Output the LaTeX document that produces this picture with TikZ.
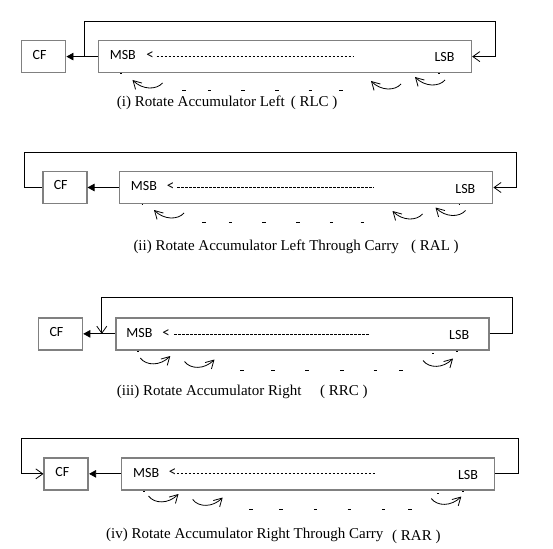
\documentclass[tikz,border=0pt]{standalone}
\usepackage{fontspec}
\setmainfont{Liberation Serif}
\newfontfamily\carlito{Carlito}
\usetikzlibrary{arrows.meta}
\definecolor{boxgray}{RGB}{128,128,128}
\newcommand\myLarr[2]{\draw[rotarr] (#1+30,#2+3) .. controls (#1+24,#2+10) and (#1+10,#2+10) .. (#1,#2);}
\newcommand\myRarr[2]{\draw[rotarr] (#1,#2+2) .. controls (#1+6,#2+10) and (#1+20,#2+10) .. (#1+30,#2);}
\newcommand\myTick[2]{\draw[tickmark] (#1-1.75,#2) -- (#1+1.75,#2);}
\newcommand\myMark[2]{\draw[tickmark] (#1-0.8,#2) -- (#1+0.8,#2);}
\begin{document}
\begin{tikzpicture}[x=1pt,y=-1pt,
  reg/.style={draw=boxgray, line width=1.6pt, minimum width=373pt, minimum height=32pt, inner sep=0pt},
  cfbox/.style={draw=boxgray, line width=1.6pt, minimum width=44pt, minimum height=32pt, inner sep=0pt,
     label={[font=\carlito\fontsize{14}{16}\selectfont, inner sep=0pt, xshift=-4pt, yshift=2pt]center:CF}},
  bit/.style={font=\carlito\fontsize{14}{16}\selectfont, inner sep=0pt},
  ltsign/.style={font=\carlito\fontsize{15}{17}\selectfont, inner sep=0pt},
  captext/.style={font=\fontsize{15}{18}\selectfont, inner sep=0pt, anchor=base west},
  conn/.style={line width=0.8pt},
  fillarr/.style={-{Triangle[length=7pt,width=7.5pt]}},
  openarr/.style={-{Straight Barb[length=7pt,width=10pt]}},
  rotarr/.style={line width=0.8pt, -{Straight Barb[length=8pt,width=9pt]}},
  dots/.style={line width=0.8pt, dash pattern=on 2.6pt off 1.4pt},
  tickmark/.style={line width=0.8pt}
]
\path[use as bounding box, fill=white] (0,0) rectangle (553,548);

% ---------- (i) RLC ----------
\node[cfbox] (cf1) at (43.6,56.6) {};
\node[reg] (acc1) at (284.9,56.6) {};
\coordinate (j1) at (84.8,56.6);
\draw[conn,fillarr] (acc1.west) -- (cf1.east);
\draw[conn,openarr] (j1) |- (495.6,21) |- (acc1.east);
\node[bit] (msb1) at (122.8,55) {MSB};
\node[ltsign] (lt1) at (150.2,55.5) {<};
\draw[dots] (156.5,56) -- (352.8,56);
\node[bit] (lsb1) at (444.5,57.5) {LSB};
\myLarr{132.5}{80} \myLarr{371}{81} \myLarr{415}{77}
\myTick{183.8}{90.7} \myTick{209.6}{90.7} \myTick{243.2}{90.7}
\myTick{276.8}{90.7} \myTick{310.4}{90.7} \myTick{341}{90.7}
\myMark{121}{73.5} \myMark{439}{73.5}
\node[captext] (cap1) at (116.7,106.7) {(i) Rotate Accumulator Left};
\node[captext] (cap1b) at (290.6,106.7) {( RLC )};

% ---------- (ii) RAL ----------
\node[cfbox] (cf2) at (64.7,187.5) {};
\node[reg] (acc2) at (306.1,187.5) {};
\draw[conn,fillarr] (acc2.west) -- (cf2.east);
\draw[conn,openarr] (cf2.west) -| (24,152.7) -| (516.8,187.5) -- (acc2.east);
\node[bit] (msb2) at (144,186) {MSB};
\node[ltsign] (lt2) at (170.7,186.5) {<};
\draw[dots] (177,187) -- (374,187);
\node[bit] (lsb2) at (465.4,189.5) {LSB};
\myLarr{154}{210} \myLarr{392.5}{211} \myLarr{435.5}{207.5}
\myTick{204}{222.3} \myTick{230.5}{222.3} \myTick{264}{222.3}
\myTick{298}{222.3} \myTick{331.6}{222.3} \myTick{362.3}{222.3}
\myMark{142.5}{204.8} \myMark{459.5}{204.8}
\node[captext] (cap2) at (133.3,250) {(ii) Rotate Accumulator Left Through Carry};
\node[captext] (cap2b) at (411,250) {( RAL )};

% ---------- (iii) RRC ----------
\node[cfbox] (cf3) at (60.45,333.85) {};
\node[reg] (acc3) at (302.25,333.85) {};
\coordinate (j3) at (101.8,333.85);
\draw[conn,fillarr] (acc3.west) -- (cf3.east);
\draw[conn,openarr] (acc3.east) -- (512.6,333.85) |- (101.8,297.7) -- (j3);
\node[bit] (msb3) at (139.5,333) {MSB};
\node[ltsign] (lt3) at (166,333.5) {<};
\draw[dots] (174,334) -- (369.4,334);
\node[bit] (lsb3) at (459.2,335.5) {LSB};
\myRarr{140.3}{356} \myRarr{184.5}{359.5} \myRarr{423}{358.5}
\myTick{242}{370.7} \myTick{273}{370.7} \myTick{306.8}{370.7}
\myTick{341.8}{370.7} \myTick{375.4}{370.7} \myTick{401.2}{370.7}
\myMark{137.9}{351.5} \myMark{456.7}{351.5} \myMark{433}{353.5}
\node[captext] (cap3) at (116.7,395) {(iii) Rotate Accumulator Right};
\node[captext] (cap3b) at (320,395) {( RRC )};

% ---------- (iv) RAR ----------
\node[cfbox] (cf4) at (66.25,473.85) {};
\node[reg] (acc4) at (308.1,473.85) {};
\draw[conn,fillarr] (acc4.west) -- (cf4.east);
\draw[conn,openarr] (acc4.east) -- (518.6,473.85) |- (21.2,438.3) |- (cf4.west);
\node[bit] (msb4) at (146.2,472.5) {MSB};
\node[ltsign] (lt4) at (172.5,473) {<};
\draw[dots] (176.8,473.5) -- (374.7,473.5);
\node[bit] (lsb4) at (468,475) {LSB};
\myRarr{148.5}{494} \myRarr{192.7}{497.5} \myRarr{431.3}{496.5}
\myTick{251}{509} \myTick{281}{509} \myTick{315.7}{509}
\myTick{349.3}{509} \myTick{383.5}{509} \myTick{410}{509}
\myMark{144}{491.5} \myMark{463}{491.5} \myMark{438}{493}
\node[captext] (cap4) at (106,538.3) {(iv) Rotate Accumulator Right Through Carry};
\node[captext] (cap4b) at (392,540.5) {( RAR )};
\end{tikzpicture}
\end{document}
